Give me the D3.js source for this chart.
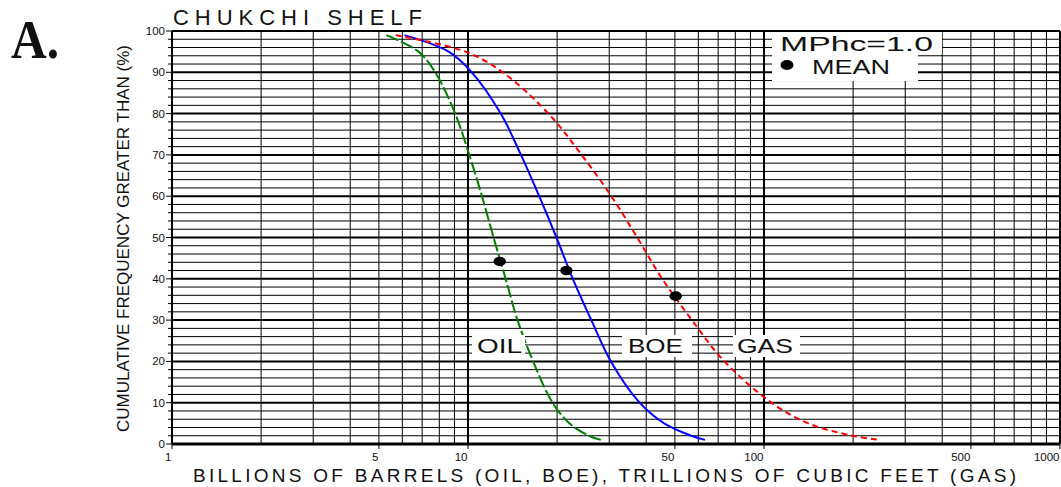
<!DOCTYPE html>
<html>
<head>
<meta charset="utf-8">
<script src="https://cdn.jsdelivr.net/npm/d3@7"></script>
<style>
  html, body { margin: 0; padding: 0; background: #fff; }
  svg { display: block; }
  text { font-family: "Liberation Sans", Arial, sans-serif; fill: #111; }
</style>
</head>
<body>
<script>
// ---------- data ----------
const percentiles = [99, 95, 90, 80, 70, 60, 50, 40, 30, 20, 10, 5, 2, 1];
const oilValues = [5.3, 6.8, 7.75, 9.05, 10.1, 11.15, 12.2, 13.4, 14.7, 16.6, 19.3, 22.0, 25.6, 28.1];
const boeValues = [6.1, 8.6, 10.3, 12.9, 15.1, 17.4, 19.9, 22.6, 26.1, 30.4, 38.0, 46.0, 56.8, 63.2];
const gasValues = [5.7, 9.8, 13.1, 18.7, 24.2, 30.5, 37.3, 45.3, 57.1, 73.5, 106, 141, 199, 246];
const seriesNames = ["OIL", "BOE", "GAS"];
const meanValues = [12.8, 21.5, 50.3];
const meanPercents = [44.2, 42.0, 35.8];
const xTickLabels = [1, 5, 10, 50, 100, 500, 1000];
const yTickLabels = [0, 10, 20, 30, 40, 50, 60, 70, 80, 90, 100];

// ---------- layout ----------
const W = 1061, H = 487;
const svg = d3.select("body").append("svg").attr("width", W).attr("height", H);

const x = d3.scaleLog().domain([1, 1000]).range([172, 1060]);
const y = d3.scaleLinear().domain([0, 100]).range([444, 31]);

// grid: vertical lines at 1..9 x each decade
const xGrid = [];
[1, 10, 100].forEach(d => { for (let k = 1; k <= 9; k++) xGrid.push(d * k); });
xGrid.push(1000);
const yGrid = d3.range(0, 101, 2);

const g = svg.append("g");
g.selectAll("line.vg").data(xGrid).join("line")
  .attr("x1", d => x(d)).attr("x2", d => x(d))
  .attr("y1", y(0)).attr("y2", y(100))
  .attr("stroke", "#000")
  .attr("stroke-width", d => ([1, 10, 100, 1000].includes(d) ? 2 : 1));

g.selectAll("line.hg").data(yGrid).join("line")
  .attr("x1", x(1)).attr("x2", x(1000))
  .attr("y1", d => y(d)).attr("y2", d => y(d))
  .attr("stroke", "#000")
  .attr("stroke-width", d => (d === 0 ? 3 : d % 10 === 0 ? 2 : 1));

// y ticks
g.selectAll("line.yt").data(yGrid).join("line")
  .attr("x1", d => x(1) - (d % 10 === 0 ? 6 : 4)).attr("x2", x(1))
  .attr("y1", d => y(d)).attr("y2", d => y(d))
  .attr("stroke", "#000").attr("stroke-width", 1);
// x ticks
g.selectAll("line.xt").data(xTickLabels).join("line")
  .attr("x1", d => x(d)).attr("x2", d => x(d))
  .attr("y1", y(0)).attr("y2", y(0) + 5)
  .attr("stroke", "#000").attr("stroke-width", 1);

// tick labels
g.selectAll("text.yl").data(yTickLabels).join("text")
  .attr("x", 165).attr("y", d => y(d) + 4)
  .attr("text-anchor", "end").attr("font-size", 11.5)
  .text(d => d);
g.selectAll("text.xl").data(xTickLabels).join("text")
  .attr("x", d => x(d) - 0.5).attr("y", 461)
  .attr("text-anchor", "end").attr("font-size", 11.5)
  .text(d => d);

// ---------- curves ----------
const seriesValues = [oilValues, boeValues, gasValues];
const seriesColors = ["#008000", "#0000ff", "#ff0000"];
const seriesDash = ["13,3", null, "6,4"];
const line = d3.line()
  .x(d => x(d[0])).y(d => y(d[1]))
  .curve(d3.curveCatmullRom.alpha(0.5));

seriesValues.forEach((vals, i) => {
  const pts = vals.map((v, j) => [v, percentiles[j]]);
  svg.append("path")
    .attr("d", line(pts))
    .attr("fill", "none")
    .attr("stroke", seriesColors[i])
    .attr("stroke-width", 2)
    .attr("stroke-dasharray", seriesDash[i]);
});

// mean points
svg.selectAll("ellipse.mean").data(meanValues).join("ellipse")
  .attr("cx", d => x(d)).attr("cy", (d, i) => y(meanPercents[i]))
  .attr("rx", 6.2).attr("ry", 4.8).attr("fill", "#000");

// ---------- curve labels ----------
const labelBoxes = [
  { x0: 472, x1: 525, tx: 477, tl: 45 },
  { x0: 622, x1: 692, tx: 628, tl: 55 },
  { x0: 733, x1: 800, tx: 737, tl: 56 }
];
seriesNames.forEach((name, i) => {
  const b = labelBoxes[i];
  svg.append("rect").attr("x", b.x0).attr("y", 335)
    .attr("width", b.x1 - b.x0).attr("height", 22).attr("fill", "#fff");
  svg.append("text").attr("x", b.tx).attr("y", 352.5)
    .attr("font-size", 21).attr("textLength", b.tl).attr("lengthAdjust", "spacingAndGlyphs")
    .text(name);
});

// ---------- legend ----------
svg.append("rect").attr("x", 772).attr("y", 32).attr("width", 170).attr("height", 22).attr("fill", "#fff");
svg.append("rect").attr("x", 772).attr("y", 54).attr("width", 146).attr("height", 27).attr("fill", "#fff");
svg.append("text").attr("x", 780).attr("y", 51).attr("font-size", 20)
  .attr("textLength", 153).attr("lengthAdjust", "spacingAndGlyphs").text("MPhc=1.0");
svg.append("ellipse").attr("cx", 787).attr("cy", 65).attr("rx", 6.5).attr("ry", 5).attr("fill", "#000");
svg.append("text").attr("x", 812).attr("y", 74).attr("font-size", 20)
  .attr("textLength", 78).attr("lengthAdjust", "spacingAndGlyphs").text("MEAN");

// ---------- titles ----------
svg.append("text").attr("x", 173).attr("y", 25).attr("font-size", 22)
  .attr("textLength", 249).attr("lengthAdjust", "spacing").text("CHUKCHI  SHELF");
svg.append("text").attr("x", 193).attr("y", 481.5).attr("font-size", 19)
  .attr("textLength", 823).attr("lengthAdjust", "spacing")
  .text("BILLIONS  OF  BARRELS  (OIL,  BOE),  TRILLIONS  OF  CUBIC  FEET  (GAS)");
svg.append("text").attr("transform", "translate(129,432) rotate(-90)")
  .attr("font-size", 17).attr("textLength", 387).attr("lengthAdjust", "spacing")
  .text("CUMULATIVE FREQUENCY GREATER THAN (%)");
svg.append("text").attr("x", 11).attr("y", 58).attr("font-size", 55)
  .attr("font-weight", "bold")
  .attr("textLength", 48).attr("lengthAdjust", "spacingAndGlyphs")
  .style("font-family", "'Liberation Serif', 'Times New Roman', serif")
  .text("A.");
</script>
</body>
</html>
